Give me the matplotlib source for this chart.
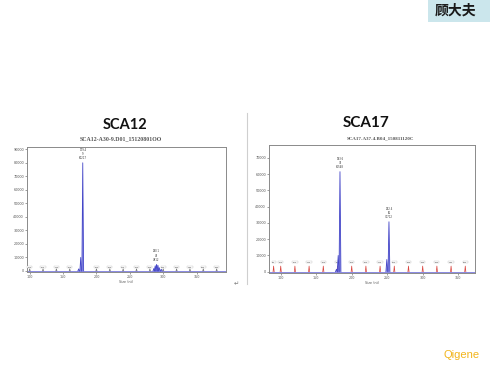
import matplotlib
matplotlib.use("Agg")
import matplotlib.pyplot as plt
from matplotlib.ticker import MultipleLocator

# ---------------- data ----------------
titles = ["SCA12", "SCA17"]
subtitles = ["SCA12-A30-9.D01_15120801OO", "SCA17-A37-4.B04_150811120C"]

x_ticks_12 = [100, 150, 200, 250, 300, 350]
y_ticks_12 = [0, 10000, 20000, 30000, 40000, 50000, 60000, 70000, 80000, 90000]
peak_sizes_12 = [173.5, 176.5, 179.5, 286.0, 288.0, 290.0, 292.0, 294.0, 297.0]
peak_heights_12 = [1500, 10000, 80000, 1800, 3800, 4800, 4200, 2400, 1200]
ladder_12 = [100, 120, 140, 160, 200, 220, 240, 260, 280, 300, 320, 340, 360, 380]
peak_labels_12 = [(179.5, 80000, "179.4\n9\n80217"), (290.0, 4800, "290.1\n46\n4812")]

x_ticks_17 = [100, 150, 200, 250, 300, 350]
y_ticks_17 = [0, 10000, 20000, 30000, 40000, 50000, 60000, 70000]
peak_sizes_17 = [178.5, 181.0, 183.5, 249.5, 252.5]
peak_heights_17 = [1500, 10000, 61500, 7500, 30700]
ladder_17 = [90, 100, 120, 140, 160, 180, 200, 220, 240, 260, 280, 300, 320, 340, 360]
peak_labels_17 = [(183.5, 61500, "183.6\n37\n61548"), (252.5, 30700, "252.4\n60\n30712")]

W, H = 490, 365
fig = plt.figure(figsize=(W / 100, H / 100), dpi=100)
fig.patch.set_facecolor("white")


def fx(px):
    return px / W


def fy(py):
    return 1 - py / H


def draw_panel(ax, sizes, heights, ladder, labels, xlim, ylim, xticks, yticks, ladder_color, ladder_h):
    ax.set_xlim(*xlim)
    ax.set_ylim(*ylim)
    ax.axhline(0, color="#5b5bd6", lw=0.5, zorder=2)
    for s in ladder:
        ax.plot([s - 0.8, s, s + 0.8], [0, ladder_h, 0], color=ladder_color, lw=0.5, zorder=3)
        ax.text(s, ladder_h * 1.6, str(s), fontsize=1.6, ha="center", va="bottom",
                color="#555555", zorder=4,
                bbox=dict(boxstyle="square,pad=0.25", fc="white", ec="#aaaaaa", lw=0.2))
    for s, h in zip(sizes, heights):
        ax.fill([s - 1.3, s, s + 1.3], [0, h, 0], color="#9597e6", zorder=4, lw=0)
        ax.plot([s - 1.3, s, s + 1.3], [0, h, 0], color="#4446c8", lw=0.6, zorder=5)
    for s, h, t in labels:
        ax.text(s, h + (ylim[1] - ylim[0]) * 0.02, t, fontsize=1.8, ha="center", va="bottom",
                color="#333333", linespacing=1.1, zorder=6)
    ax.set_xticks(xticks)
    ax.set_yticks(yticks)
    ax.xaxis.set_minor_locator(MultipleLocator(10))
    ax.tick_params(labelsize=2.4, length=1.2, width=0.4, pad=1, colors="#555555")
    ax.tick_params(which="minor", length=0.8, width=0.3, colors="#555555")
    for sp in ax.spines.values():
        sp.set_color("#8a8a8a")
        sp.set_linewidth(0.7)
    ax.set_xlabel("Size (nt)", fontsize=2.4, labelpad=1, color="#555555")


ax1 = fig.add_axes([fx(27), fy(272), fx(226) - fx(27), fy(147) - fy(272)])
draw_panel(ax1, peak_sizes_12, peak_heights_12, ladder_12, peak_labels_12,
           (96, 394), (-800, 91700), x_ticks_12, y_ticks_12, "#707070", 1500)

ax2 = fig.add_axes([fx(269), fy(272.7), fx(475) - fx(269), fy(145) - fy(272.7)])
draw_panel(ax2, peak_sizes_17, peak_heights_17, ladder_17, peak_labels_17,
           (83.5, 373.7), (-600, 77900), x_ticks_17, y_ticks_17, "#d9453f", 3500)

fig.text(fx(125), fy(125), titles[0], fontsize=10.5, fontweight="bold", family="Lato",
         ha="center", va="center", color="#111111")
fig.text(fx(121), fy(139), subtitles[0], fontsize=4.2, family="Liberation Serif",
         fontweight="bold", ha="center", va="center", color="#555555")
fig.text(fx(366), fy(123), titles[1], fontsize=11, fontweight="bold", family="Lato",
         ha="center", va="center", color="#111111")
fig.text(fx(380), fy(138), subtitles[1], fontsize=3.6, family="Liberation Serif",
         fontweight="bold", ha="center", va="center", color="#555555")

fig.add_artist(plt.Line2D([fx(247), fx(247)], [fy(113), fy(284)], color="#cfcfcf", lw=0.8))

fig.text(fx(236), fy(284), "\u21b5", fontsize=4.5, ha="center", va="center", color="#777777")

fig.add_artist(plt.Rectangle((fx(428), fy(22)), 1 - fx(428), fy(0) - fy(22),
                             transform=fig.transFigure, fc="#cbe6ec", ec="none"))
fig.text(fx(456), fy(11), "顾大夫", fontsize=10, family=["Noto Sans CJK SC", "DejaVu Sans"],
         fontweight="bold", ha="center", va="center", color="#1a1a1a")

fig.text(fx(462), fy(355), "Qigene", fontsize=8, family="Liberation Sans",
         ha="center", va="center", color="#f2b51c")

fig.savefig("out.png", dpi=100, facecolor="white")
